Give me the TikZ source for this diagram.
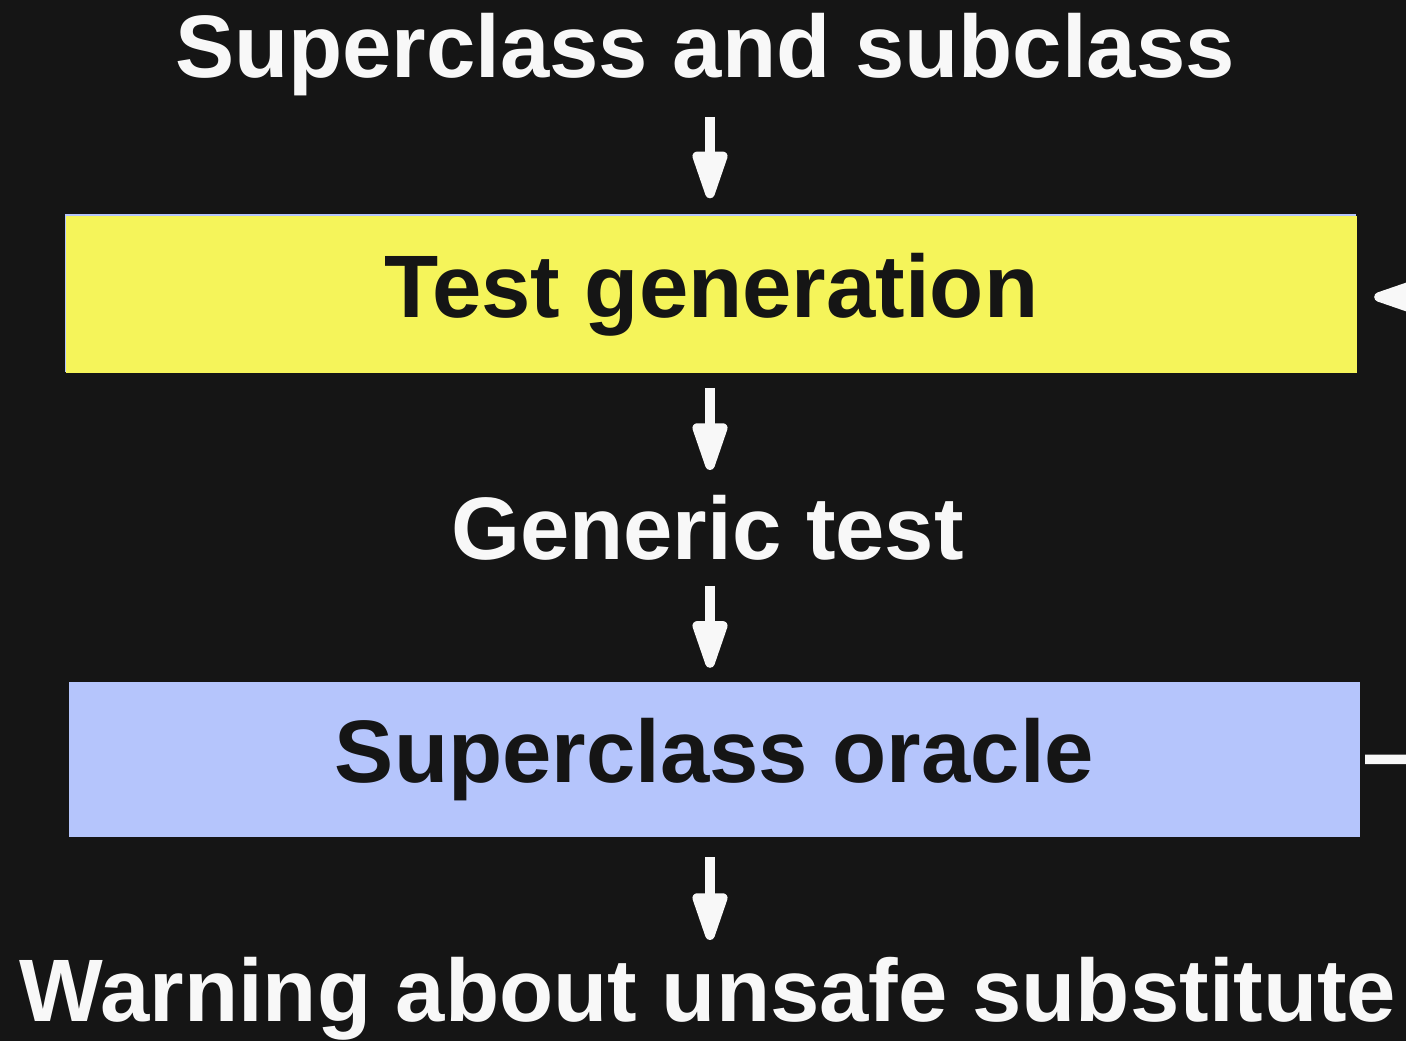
\documentclass[tikz,border=0pt]{standalone}
\usepackage{fontspec}
\setmainfont{Liberation Sans}
\usetikzlibrary{arrows.meta,calc}
\definecolor{bg}{HTML}{151515}
\definecolor{fg}{HTML}{F8F8F8}
\definecolor{genyellow}{HTML}{F5F45A}
\definecolor{oracleblue}{HTML}{B5C5FC}
\begin{document}
\begin{tikzpicture}[x=1pt,y=1pt,
  bigfont/.style={font=\fontsize{88.7}{100}\selectfont\bfseries},
  lbl/.style={bigfont,text=fg,inner sep=0pt,anchor=base},
  stage/.style={bigfont,text=bg,inner sep=0pt,minimum width=1291pt},
  arr/.style={draw=fg,line width=9.5pt,-{Triangle[width=36pt,length=58pt,round]}},
]
\fill[bg] (0,0) rectangle (1406,1041);
\clip (0,0) rectangle (1406,1041);
\node[lbl] (title) at (705,963) {Superclass and subclass};
\fill[oracleblue] (64.5,669) rectangle (1356,826.5);
\node[stage,fill=genyellow,minimum height=157pt] (gen) at (711.5,746) {Test generation};
\node[lbl] (generic) at (707.5,481) {Generic test};
\node[stage,fill=oracleblue,minimum height=155pt] (oracle) at (714.5,281.5) {Superclass oracle};
\node[lbl] (warn) at (708,19) {Warning about unsafe substitute};
\draw[arr] ($(title.base -| gen.north)+(-1.5,-39)$) -- ($(gen.north)+(-1.5,18)$);
\draw[arr] ($(gen.south)+(-1.5,-14.5)$) -- ($(generic.base -| gen.south)+(-1.5,90)$);
\draw[arr] ($(generic.base -| gen.south)+(-1.5,-26)$) -- ($(oracle.north -| gen.south)+(-1.5,14)$);
\draw[arr] ($(oracle.south -| gen.south)+(-1.5,-20)$) -- ($(warn.base -| gen.south)+(-1.5,82)$);
\draw[arr,rounded corners=30pt] ($(oracle.east)+(13,0)$) -- ++(22,0) .. controls +(20,0) and +(0,-30) .. ++(50,45) |- ($(gen.east)+(17,-2)$);
\end{tikzpicture}
\end{document}
